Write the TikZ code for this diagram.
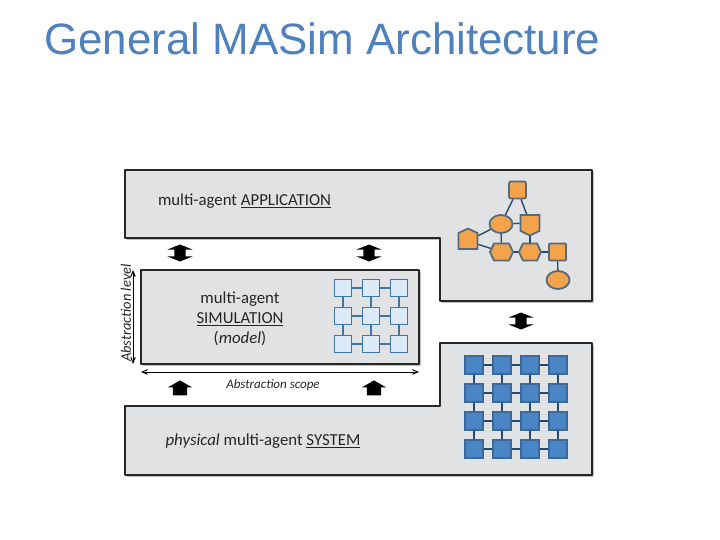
\documentclass[tikz,border=0pt]{standalone}
\usepackage{fontspec}
\setmainfont{Carlito}
\newfontfamily\titlefont{Liberation Sans}
\usepackage{tikz}
\usetikzlibrary{shapes,shapes.symbols,shapes.misc,shapes.arrows,shapes.geometric,arrows,shadows}
\definecolor{titleblue}{HTML}{4F81BD}
\definecolor{panelgrey}{HTML}{E1E2E4}
\definecolor{simfill}{HTML}{DCE9F6}
\definecolor{simdraw}{HTML}{3F76A8}
\definecolor{sysfill}{HTML}{4A86C5}
\definecolor{sysdraw}{HTML}{39699A}
\definecolor{agentfill}{HTML}{F5A34B}
\definecolor{agentdraw}{HTML}{566A7E}
\definecolor{linkdraw}{HTML}{24496E}
\tikzstyle{panel} = [draw=black!85, fill=panelgrey, line width=1.6pt, line join=round, drop shadow={shadow xshift=1.8pt, shadow yshift=-1.8pt, opacity=.5}]
\tikzstyle{link} = [draw=linkdraw, line width=1.4pt]
\tikzstyle{scale arrow} = [draw=black, <->, >=angle 45, line width=1pt]
\tikzstyle{sim} = [draw=simdraw, fill=simfill, line width=1.6pt, minimum size=17pt, inner sep=0pt]
\tikzstyle{sys} = [draw=sysdraw, fill=sysfill, line width=1.5pt, minimum size=18pt, inner sep=0pt]
\tikzstyle{agent} = [draw=agentdraw, fill=agentfill, line width=1.8pt, inner sep=0pt]
\tikzstyle{label} = [text=black!85, font=\fontsize{16.8}{19}\selectfont, align=center, inner sep=0pt]
\tikzstyle{updown} = [double arrow, shape border rotate=90, fill=black, draw=none, minimum height=17pt, inner xsep=5.5pt, inner ysep=1.5pt, double arrow head extend=7pt, double arrow head indent=0pt, double arrow tip angle=136]
\tikzstyle{uparrow} = [single arrow, shape border rotate=90, fill=black, draw=none, minimum height=15pt, inner xsep=7pt, inner ysep=3pt, single arrow head extend=5pt, single arrow head indent=0pt, single arrow tip angle=120]
\begin{document}
\begin{tikzpicture} [x=1pt, y=-1pt, node distance = 28pt]

        \useasboundingbox (0,0) rectangle (720,540);

        \node[anchor=base west, text=titleblue, font=\titlefont\fontsize{43.9}{50}\selectfont, inner sep=0pt] (title) at (44,55) {General MASim Architecture};

        % panels
        \path [panel] (125,170) -- (592,170) -- (592,301) -- (440,301) -- (440,238) -- (125,238) -- cycle;
        \path [panel] (440,343) -- (592,343) -- (592,475) -- (125,475) -- (125,406) -- (440,406) -- cycle;
        \node[panel, minimum width=278pt, minimum height=94pt, inner sep=0pt] (SIM) at (280,317) {};

        \node[label] (APPtext) at (244.5,201.5) {multi-agent \underline{APPLICATION}};
        \node[label] (SIMtext) at (240,319) {multi-agent\\[1pt]\underline{SIMULATION}\\[1pt](\textit{model})};
        \node[label] (SYStext) at (263,441) {\textit{physical} multi-agent \underline{SYSTEM}};

        % block arrows
        \node[updown] (A1) at (180,253) {};
        \node[updown] (A2) at (369,253) {};
        \node[updown] (A3) at (521,321) {};
        \node[uparrow] (U1) at (180,390) {};
        \node[uparrow] (U2) at (374,390) {};

        % abstraction axes
        \coordinate (scopeL) at (141,372);
        \coordinate (scopeR) at (419,372);
        \coordinate (levelT) at (133,270);
        \coordinate (levelB) at (133,364);
        \path [scale arrow] (scopeL) -- (scopeR);
        \path [scale arrow] (levelT) -- (levelB);
        \node[font=\itshape\fontsize{13}{15}\selectfont, text=black!85, inner sep=0pt] (scope) at (273,385) {Abstraction scope};
        \node[font=\itshape\fontsize{14.5}{16}\selectfont, text=black!85, inner sep=0pt, rotate=90] (level) at (126,313) {Abstraction level};

        % simulation grid
        \node[sim] (s11) at (343,288) {};
        \node[sim] (s12) [right of=s11] {};
        \node[sim] (s13) [right of=s12] {};
        \node[sim] (s21) [below of=s11] {};
        \node[sim] (s22) [right of=s21] {};
        \node[sim] (s23) [right of=s22] {};
        \node[sim] (s31) [below of=s21] {};
        \node[sim] (s32) [right of=s31] {};
        \node[sim] (s33) [right of=s32] {};

        \path [link, draw=simdraw] (s11) -- (s12);
        \path [link, draw=simdraw] (s12) -- (s13);
        \path [link, draw=simdraw] (s21) -- (s22);
        \path [link, draw=simdraw] (s22) -- (s23);
        \path [link, draw=simdraw] (s31) -- (s32);
        \path [link, draw=simdraw] (s32) -- (s33);
        \path [link, draw=simdraw] (s11) -- (s21);
        \path [link, draw=simdraw] (s21) -- (s31);
        \path [link, draw=simdraw] (s12) -- (s22);
        \path [link, draw=simdraw] (s22) -- (s32);
        \path [link, draw=simdraw] (s13) -- (s23);
        \path [link, draw=simdraw] (s23) -- (s33);

        % system grid
        \node[sys] (p11) at (474,365) {};
        \node[sys] (p12) [right of=p11] {};
        \node[sys] (p13) [right of=p12] {};
        \node[sys] (p14) [right of=p13] {};
        \node[sys] (p21) [below of=p11] {};
        \node[sys] (p22) [right of=p21] {};
        \node[sys] (p23) [right of=p22] {};
        \node[sys] (p24) [right of=p23] {};
        \node[sys] (p31) [below of=p21] {};
        \node[sys] (p32) [right of=p31] {};
        \node[sys] (p33) [right of=p32] {};
        \node[sys] (p34) [right of=p33] {};
        \node[sys] (p41) [below of=p31] {};
        \node[sys] (p42) [right of=p41] {};
        \node[sys] (p43) [right of=p42] {};
        \node[sys] (p44) [right of=p43] {};

        \path [link] (p11) -- (p12);
        \path [link] (p12) -- (p13);
        \path [link] (p13) -- (p14);
        \path [link] (p21) -- (p22);
        \path [link] (p22) -- (p23);
        \path [link] (p23) -- (p24);
        \path [link] (p31) -- (p32);
        \path [link] (p32) -- (p33);
        \path [link] (p33) -- (p34);
        \path [link] (p41) -- (p42);
        \path [link] (p42) -- (p43);
        \path [link] (p43) -- (p44);
        \path [link] (p11) -- (p21);
        \path [link] (p21) -- (p31);
        \path [link] (p31) -- (p41);
        \path [link] (p12) -- (p22);
        \path [link] (p22) -- (p32);
        \path [link] (p32) -- (p42);
        \path [link] (p13) -- (p23);
        \path [link] (p23) -- (p33);
        \path [link] (p33) -- (p43);
        \path [link] (p14) -- (p24);
        \path [link] (p24) -- (p34);
        \path [link] (p34) -- (p44);

        % application agents
        \node[agent, rounded corners=2pt, minimum size=17pt] (top) at (517.5,190) {};
        \node[agent, ellipse, minimum width=23pt, minimum height=18pt] (ell) at (501,224) {};
        \node[agent, signal, signal to=south, signal pointer angle=130, minimum width=19pt, minimum height=16pt] (shield) at (530,223) {};
        \node[agent, signal, signal to=north, signal pointer angle=130, minimum width=19pt, minimum height=16pt] (penta) at (468,241) {};
        \node[agent, signal, signal to=east and west, signal pointer angle=130, minimum width=23pt, minimum height=17pt] (hexa) at (501.5,252) {};
        \node[agent, signal, signal to=east and west, signal pointer angle=130, minimum width=22pt, minimum height=17pt] (hexb) at (530,252) {};
        \node[agent, rounded corners=1pt, minimum size=17pt] (sq) at (557.5,252) {};
        \node[agent, ellipse, minimum width=23pt, minimum height=18pt] (ellb) at (558,280) {};

        \path [link] (top) -- (ell);
        \path [link] (top) -- (shield);
        \path [link] (ell) -- (shield);
        \path [link] (ell) -- (penta);
        \path [link] (penta) -- (hexa);
        \path [link] (ell) -- (hexa);
        \path [link] (shield) -- (hexb);
        \path [link] (hexa) -- (hexb);
        \path [link] (hexb) -- (sq);
        \path [link] (sq) -- (ellb);

\end{tikzpicture}
\end{document}
